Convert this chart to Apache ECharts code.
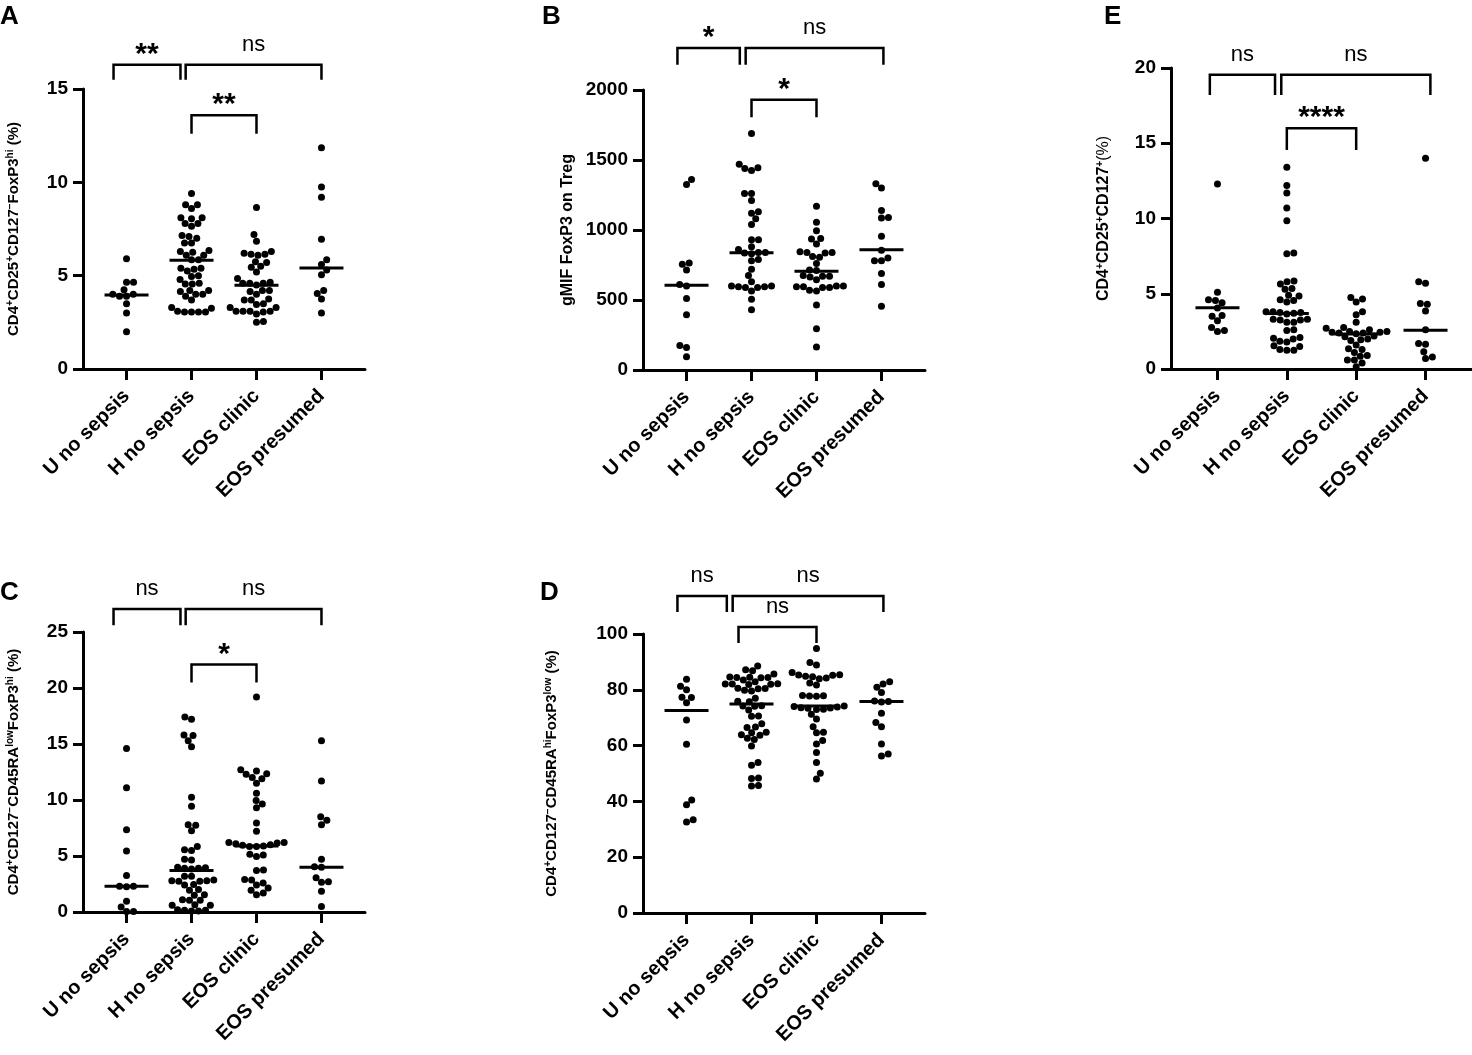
<!DOCTYPE html>
<html>
<head>
<meta charset="utf-8">
<script src="https://cdn.jsdelivr.net/npm/echarts@6.0.0/dist/echarts.min.js"></script>
<style>
html, body { margin: 0; padding: 0; background: #fff; }
#chart { width: 1472px; height: 1055px; }
</style>
</head>
<body>
<div id="chart"></div>
<script>
// groups on every x axis
var groups = ['U no sepsis', 'H no sepsis', 'EOS clinic', 'EOS presumed'];

// A: CD4+CD25+CD127-FoxP3hi (%)
var aU = [5.9, 4.65, 4.65, 4.25, 4.0, 3.9, 4.0, 3.9, 3.5, 3.0, 2.0];
var aH = [9.4, 8.8, 8.8, 8.6, 8.1, 8.1, 8.05, 7.8, 7.8, 7.65, 7.15, 7.1, 7.0, 6.75, 6.75, 6.35, 6.3, 6.25, 6.1, 6.1, 5.85, 5.85, 5.4, 5.4, 5.35, 5.25, 5.0, 4.95, 4.8, 4.6, 4.55, 4.55, 4.2, 4.2, 4.15, 4.0, 4.0, 3.9, 3.7, 3.3, 3.25, 3.1, 3.05, 3.05, 3.05, 3.05];
var aC = [8.65, 7.2, 6.85, 6.3, 6.2, 6.15, 6.15, 6.1, 5.75, 5.7, 5.5, 5.45, 5.2, 4.85, 4.65, 4.6, 4.6, 4.6, 4.5, 4.2, 4.2, 4.15, 4.0, 3.75, 3.7, 3.7, 3.5, 3.45, 3.3, 3.3, 3.1, 3.1, 3.1, 3.1, 3.05, 2.95, 2.55, 2.5];
var aP = [11.85, 9.75, 9.2, 6.95, 5.85, 5.6, 5.3, 5.05, 4.2, 4.05, 3.75, 3.0];
var aMed = [3.96, 5.82, 4.48, 5.41];
var aSig = [[0.80, 1.83, 16.3, 15.5, '**'], [1.91, 4.0, 16.3, 15.5, 'ns'], [2.0, 3.0, 13.6, 12.6, '**']];

// B: gMIF FoxP3 on Treg
var bU = [1360, 1325, 765, 755, 715, 610, 600, 510, 395, 175, 160, 95];
var bH = [1690, 1470, 1445, 1440, 1425, 1260, 1260, 1210, 1130, 1120, 1080, 1040, 930, 930, 880, 860, 840, 840, 835, 830, 790, 780, 720, 675, 630, 600, 600, 595, 595, 590, 590, 565, 505, 430];
var bC = [1170, 1055, 995, 940, 935, 900, 845, 840, 840, 835, 810, 805, 760, 715, 710, 675, 670, 670, 665, 645, 600, 600, 595, 595, 590, 590, 570, 565, 465, 295, 165];
var bP = [1330, 1300, 1140, 1090, 1085, 955, 855, 800, 780, 780, 690, 610, 455];
var bMed = [606, 838, 706, 859];
var bSig = [[0.86, 1.82, 2300, 2180, '*'], [1.91, 4.03, 2300, 2180, 'ns'], [2.0, 3.0, 1930, 1805, '*']];

// E: CD4+CD25+CD127+ (%)
var eU = [12.3, 5.1, 4.6, 4.55, 4.4, 4.05, 3.55, 3.5, 3.2, 2.75, 2.55, 2.5];
var eH = [13.4, 12.2, 11.7, 10.7, 9.85, 7.7, 7.65, 5.85, 5.8, 5.65, 5.35, 5.3, 4.9, 4.85, 4.6, 4.55, 4.45, 3.8, 3.8, 3.75, 3.75, 3.7, 3.65, 3.3, 3.3, 3.25, 3.25, 3.1, 3.1, 2.6, 2.55, 2.1, 2.05, 2.0, 1.85, 1.8, 1.55, 1.5, 1.3, 1.25, 1.25];
var eC = [4.75, 4.65, 4.45, 3.8, 3.6, 3.1, 2.75, 2.7, 2.6, 2.5, 2.5, 2.45, 2.45, 2.4, 2.4, 2.35, 2.2, 2.15, 2.0, 1.95, 1.9, 1.6, 1.35, 1.3, 1.1, 0.9, 0.85, 0.6, 0.6, 0.4, 0.15];
var eP = [14.0, 5.8, 5.7, 4.35, 4.3, 3.85, 2.6, 1.7, 1.65, 1.15, 0.8, 0.7];
var eMed = [4.07, 3.69, 2.33, 2.58];
var eSig = [[0.89, 1.83, 19.55, 18.2, 'ns'], [1.92, 4.07, 19.55, 18.2, 'ns'], [2.0, 3.0, 16.0, 14.55, '****']];

// C: CD4+CD127-CD45RAlowFoxP3hi (%)
var cU = [14.6, 11.1, 7.35, 5.45, 3.25, 2.3, 2.3, 2.25, 0.95, 0.45, 0.05, 0.05];
var cH = [17.4, 17.2, 15.8, 15.75, 15.3, 14.75, 10.25, 9.45, 7.8, 7.75, 7.25, 5.85, 5.55, 5.5, 4.7, 4.65, 4.0, 3.95, 3.9, 3.9, 3.85, 3.2, 3.2, 2.85, 2.8, 2.8, 2.75, 2.75, 2.45, 2.4, 2.0, 1.95, 1.55, 1.5, 1.1, 1.05, 1.05, 0.65, 0.6, 0.6, 0.2, 0.15, 0.15, 0.1, 0.1];
var cC = [19.2, 12.7, 12.6, 12.35, 12.3, 12.0, 11.9, 11.5, 10.6, 9.95, 9.65, 9.3, 7.95, 7.2, 6.2, 6.2, 6.15, 6.1, 6.0, 5.95, 5.9, 5.85, 5.85, 5.15, 5.1, 4.95, 3.75, 3.7, 2.9, 2.85, 2.6, 2.4, 2.15, 1.95, 1.7, 1.55];
var cP = [15.3, 11.7, 8.5, 8.2, 7.8, 4.7, 4.05, 4.0, 3.05, 2.7, 2.65, 1.85, 0.5];
var cMed = [2.3, 3.71, 5.9, 4.0];
var cSig = [[0.80, 1.83, 27.05, 25.6, 'ns'], [1.91, 4.0, 27.05, 25.6, 'ns'], [2.0, 3.0, 22.1, 20.5, '*']];

// D: CD4+CD127-CD45RAhiFoxP3low (%)
var dU = [83.8, 81.3, 80.0, 77.3, 77.2, 75.4, 69.2, 60.5, 40.5, 38.8, 33.4, 32.6];
var dH = [88.5, 87.2, 86.8, 85.7, 84.6, 84.5, 84.4, 84.4, 84.3, 83.5, 82.9, 82.2, 82.1, 82.1, 82.0, 81.9, 80.6, 80.5, 80.4, 79.8, 79.6, 77.0, 75.9, 75.7, 74.3, 74.2, 74.1, 72.8, 70.6, 70.5, 67.8, 66.7, 66.5, 64.8, 64.6, 63.9, 63.7, 62.6, 62.2, 59.9, 53.9, 53.0, 48.4, 48.2, 45.7, 45.5];
var dC = [94.8, 89.8, 88.9, 86.2, 85.4, 85.3, 85.2, 84.9, 84.7, 84.2, 84.0, 82.4, 81.7, 78.0, 77.9, 77.8, 77.7, 74.2, 74.0, 73.8, 73.6, 73.5, 73.4, 73.0, 72.9, 71.2, 69.5, 66.8, 64.8, 64.6, 61.8, 60.6, 57.5, 53.9, 50.1, 48.0];
var dP = [82.9, 82.1, 80.9, 79.0, 76.0, 75.8, 75.6, 71.6, 68.3, 66.8, 60.6, 57.0, 56.3];
var dMed = [72.6, 74.9, 74.2, 75.8];
var dSig = [[0.86, 1.62, 113.6, 107.9, 'ns'], [1.71, 4.03, 113.6, 107.9, 'ns'], [1.8, 3.0, 102.5, 96.8, 'ns']];

var FONT = "'Liberation Sans', Arial, Helvetica, sans-serif";
var DOT = 7;     // dot size px
var GAP = 7;     // min distance between dot centres, px

var panels = [
    { letter: 'A', lx: 0, ly: 4, rect: [83, 89, 282, 280], max: 15, step: 5, gap: 60, nfs: 15,
      name: '{n|CD4}{u|+}{n|CD25}{u|+}{n|CD127}{u|−}{n|FoxP3}{u|hi}{n| (%)}',
      groups: [aU, aH, aC, aP], med: aMed, sig: aSig },
    { letter: 'B', lx: 542, ly: 4, rect: [643, 90, 282, 280], max: 2000, step: 500, gap: 66, nfs: 16,
      name: '{n|gMIF FoxP3 on Treg}',
      groups: [bU, bH, bC, bP], med: bMed, sig: bSig },
    { letter: 'E', lx: 1104, ly: 4, rect: [1171, 68, 301, 301], max: 20, step: 5, gap: 58, nfs: 16,
      name: '{n|CD4}{u|+}{n|CD25}{u|+}{n|CD127}{u|+}{m|(%)}',
      groups: [eU, eH, eC, eP], med: eMed, sig: eSig },
    { letter: 'C', lx: 0, ly: 580, rect: [83, 632, 282, 280], max: 25, step: 5, gap: 60, nfs: 15,
      name: '{n|CD4}{u|+}{n|CD127}{u|−}{n|CD45RA}{u|low}{n|FoxP3}{u|hi}{n| (%)}',
      groups: [cU, cH, cC, cP], med: cMed, sig: cSig },
    { letter: 'D', lx: 540, ly: 580, rect: [643, 634, 282, 279], max: 100, step: 20, gap: 82, nfs: 15,
      name: '{n|CD4}{u|+}{n|CD127}{u|−}{n|CD45RA}{u|hi}{n|FoxP3}{u|low}{n| (%)}',
      groups: [dU, dH, dC, dP], med: dMed, sig: dSig }
];

var axisLine = { show: true, lineStyle: { color: '#000', width: 3 } };
var axisTick = { show: true, length: 10, lineStyle: { color: '#000', width: 3 } };

var option = {
    animation: false,
    backgroundColor: '#fff',
    title: [],
    grid: [],
    xAxis: [],
    yAxis: [],
    series: []
};

panels.forEach(function (pn, p) {
    option.title.push({
        text: pn.letter, left: pn.lx, top: pn.ly, padding: 0,
        textStyle: { fontFamily: FONT, fontSize: 26, fontWeight: 'bold', color: '#000' }
    });
    option.grid.push({
        left: pn.rect[0], top: pn.rect[1], width: pn.rect[2], height: pn.rect[3],
        outerBoundsMode: 'none'
    });
    option.xAxis.push({
        gridIndex: p, type: 'value', min: 0.33, max: 4.67,
        axisLine: axisLine,
        axisTick: { show: true, length: 11, customValues: [1, 2, 3, 4], lineStyle: { color: '#000', width: 3 } },
        axisLabel: {
            customValues: [1, 2, 3, 4], rotate: 45, margin: 24,
            fontFamily: FONT, fontSize: 20, fontWeight: 'bold', color: '#000',
            formatter: function (v) { return groups[Math.round(v) - 1] || ''; }
        },
        splitLine: { show: false }
    });
    option.yAxis.push({
        gridIndex: p, type: 'value', min: 0, max: pn.max, interval: pn.step,
        axisLine: axisLine, axisTick: axisTick,
        axisLabel: {
            fontFamily: FONT, fontSize: 19, fontWeight: 'bold', color: '#000', margin: 15,
            formatter: function (v) { return String(v); }
        },
        splitLine: { show: false },
        name: pn.name, nameLocation: 'middle', nameRotate: 90, nameGap: pn.gap,
        nameTextStyle: {
            rich: {
                n: { fontFamily: FONT, fontSize: pn.nfs, fontWeight: 'bold', color: '#000', lineHeight: 18 },
                m: { fontFamily: FONT, fontSize: pn.nfs, color: '#000', lineHeight: 18 },
                u: { fontFamily: FONT, fontSize: 10, fontWeight: 'bold', color: '#000', lineHeight: 10, verticalAlign: 'top' }
            }
        }
    });
});

var chart = echarts.init(document.getElementById('chart'));
chart.setOption(option);

// beeswarm: each dot goes to the free spot nearest the group centre
function swarm(vals, center, yPx, xUnit) {
    var order = vals.map(function (v, i) { return i; })
        .sort(function (a, b) { return vals[a] - vals[b]; });
    var placed = [], out = [], flip = false;
    order.forEach(function (i) {
        var y = yPx(vals[i]);
        var blocks = [];
        placed.forEach(function (q) {
            var dy = Math.abs(q.y - y);
            if (dy < GAP) {
                var w = Math.sqrt(GAP * GAP - dy * dy);
                blocks.push([q.x - w, q.x + w]);
            }
        });
        var cands = [0];
        blocks.forEach(function (b) { cands.push(b[0], b[1]); });
        flip = !flip;
        cands.sort(function (a, b) {
            var d = Math.abs(a) - Math.abs(b);
            if (Math.abs(d) > 1e-6) return d;
            return flip ? a - b : b - a;
        });
        var x = 0;
        for (var k = 0; k < cands.length; k++) {
            var c = cands[k];
            var ok = blocks.every(function (b) { return c <= b[0] + 1e-6 || c >= b[1] - 1e-6; });
            if (ok) { x = c; break; }
        }
        placed.push({ x: x, y: y });
        out.push([center + x / xUnit, vals[i]]);
    });
    return out;
}

function medianItem(params, api) {
    var c = api.coord([api.value(0), api.value(1)]);
    return {
        type: 'line',
        shape: { x1: c[0] - 22, y1: c[1], x2: c[0] + 22, y2: c[1] },
        style: { stroke: '#000', lineWidth: 3 }
    };
}

function bracketItem(list) {
    return function (params, api) {
        var b = list[params.dataIndex];
        var p1 = api.coord([b[0], b[2]]);
        var p2 = api.coord([b[1], b[2]]);
        var yb = api.coord([b[0], b[3]])[1];
        var stars = b[4] !== 'ns';
        return {
            type: 'group',
            children: [{
                type: 'polyline',
                shape: { points: [[p1[0], yb], [p1[0], p1[1]], [p2[0], p2[1]], [p2[0], yb]] },
                style: { stroke: '#000', lineWidth: 2.5, fill: null }
            }, {
                type: 'text',
                style: {
                    text: b[4], x: (p1[0] + p2[0]) / 2, y: p1[1] - (stars ? 10 : 20),
                    align: 'center', verticalAlign: 'middle',
                    textAlign: 'center', textVerticalAlign: 'middle',
                    font: (stars ? 'bold 30px ' : '22px ') + FONT, fill: '#000'
                }
            }]
        };
    };
}

var series = [];
panels.forEach(function (pn, p) {
    var yPx = function (v) { return chart.convertToPixel({ yAxisIndex: p }, v); };
    var xUnit = chart.convertToPixel({ xAxisIndex: p }, 2) - chart.convertToPixel({ xAxisIndex: p }, 1);
    var pts = [];
    pn.groups.forEach(function (vals, g) {
        pts = pts.concat(swarm(vals, g + 1, yPx, xUnit));
    });
    series.push({
        type: 'scatter', xAxisIndex: p, yAxisIndex: p, silent: true,
        symbol: 'circle', symbolSize: DOT, itemStyle: { color: '#000', opacity: 1 },
        data: pts, z: 2
    });
    series.push({
        type: 'custom', xAxisIndex: p, yAxisIndex: p, silent: true,
        renderItem: medianItem,
        data: pn.med.map(function (m, i) { return [i + 1, m]; }), z: 3
    });
    series.push({
        type: 'custom', xAxisIndex: p, yAxisIndex: p, silent: true, clip: false,
        renderItem: bracketItem(pn.sig),
        data: pn.sig.map(function (b) { return [(b[0] + b[1]) / 2, b[2]]; }), z: 3
    });
});
chart.setOption({ series: series });
</script>
</body>
</html>
